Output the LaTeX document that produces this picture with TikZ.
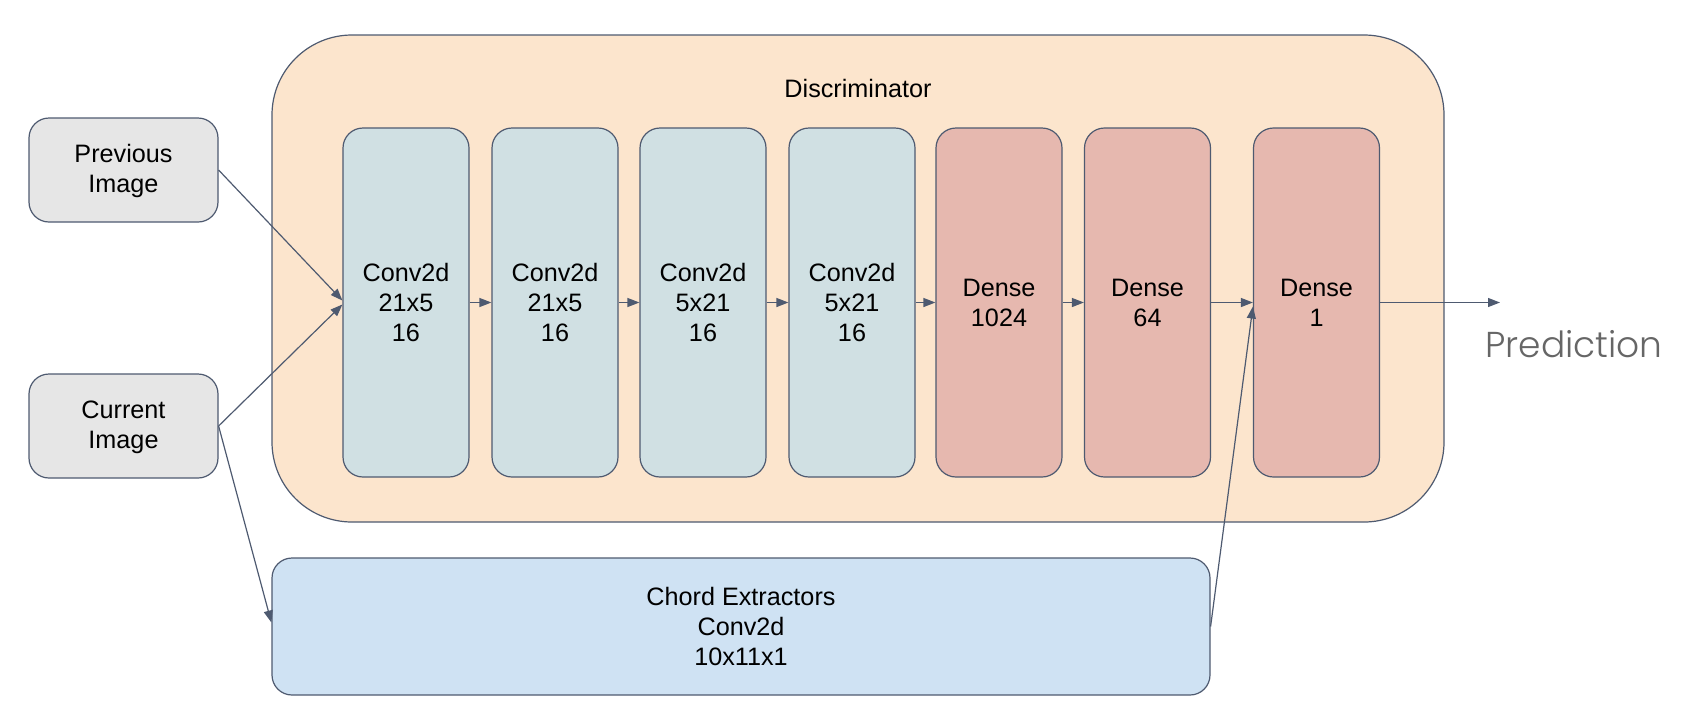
\documentclass[tikz,border=0pt]{standalone}
\usepackage{fontspec}
\setmainfont{Liberation Sans}
\newfontfamily\predfont{Poppins Light}
\usetikzlibrary{arrows.meta,calc}
\definecolor{edgecol}{HTML}{4E5A70}
\definecolor{outerfill}{HTML}{FCE5CD}
\definecolor{convfill}{HTML}{D0E0E3}
\definecolor{densefill}{HTML}{E6B8AF}
\definecolor{inputfill}{HTML}{E6E6E6}
\definecolor{chordfill}{HTML}{CFE2F3}
\definecolor{predgray}{HTML}{666666}
\begin{document}
\begin{tikzpicture}[x=0.5pt,y=-0.5pt,
  box/.style={draw=edgecol, line width=0.6pt, rounded corners=10pt, align=center,
    font=\fontsize{12.6}{15}\selectfont, inner sep=0pt},
  inbox/.style={box, fill=inputfill, minimum width=94.5pt, minimum height=52pt},
  layer/.style={box, minimum width=63pt, minimum height=174.5pt},
  conv/.style={layer, fill=convfill},
  dense/.style={layer, fill=densefill},
  arr/.style={draw=edgecol, line width=0.6pt, -{Triangle[length=6pt,width=4.5pt]}}
]
\useasboundingbox (0,0) rectangle (1687,703);

% outer discriminator container
\node[draw=edgecol, line width=0.6pt, fill=outerfill, rounded corners=40pt,
  minimum width=586pt, minimum height=243.5pt, inner sep=0pt] (disc) at (858,278.5) {};
\node[font=\fontsize{12.6}{15}\selectfont, anchor=base] (disclabel) at (858,97) {Discriminator};

% inputs
\node[inbox] (prev) at (123.5,170) {\strut Previous\\Image};
\node[inbox] (cur) at (123.5,426) {\strut Current\\Image};

% layers
\node[conv] (c1) at (406,302.5) {Conv2d\\21x5\\16};
\node[conv] (c2) at (555,302.5) {Conv2d\\21x5\\16};
\node[conv] (c3) at (703,302.5) {Conv2d\\5x21\\16};
\node[conv] (c4) at (852,302.5) {Conv2d\\5x21\\16};
\node[dense] (d1) at (999,302.5) {Dense\\1024};
\node[dense] (d2) at (1147.5,302.5) {Dense\\64};
\node[dense] (d3) at (1316.5,302.5) {Dense\\1};

% chord extractor
\node[box, fill=chordfill, minimum width=469pt, minimum height=68.5pt] (chord) at (741,626.5)
  {Chord Extractors\\Conv2d\\10x11x1};

% output label
\coordinate (out) at (1500,302.5);
\node[font=\predfont\fontsize{18}{20}\selectfont, text=predgray, anchor=base] (pred) at (1574,357) {Prediction};

% connectors
\draw[arr] (prev.east) -- ($(c1.west)+(0,-2)$);
\draw[arr] (cur.east) -- ($(c1.west)+(0,2)$);
\draw[arr] (c1.east) -- (c2.west);
\draw[arr] (c2.east) -- (c3.west);
\draw[arr] (c3.east) -- (c4.west);
\draw[arr] (c4.east) -- (d1.west);
\draw[arr] (d1.east) -- (d2.west);
\draw[arr] (d2.east) -- (d3.west);
\draw[arr] (d3.east) -- (out);
\draw[arr] (cur.east) -- ($(chord.west)+(0,-4)$);
\draw[arr] (chord.east) -- ($(d3.west)+(0,4)$);
\end{tikzpicture}
\end{document}
